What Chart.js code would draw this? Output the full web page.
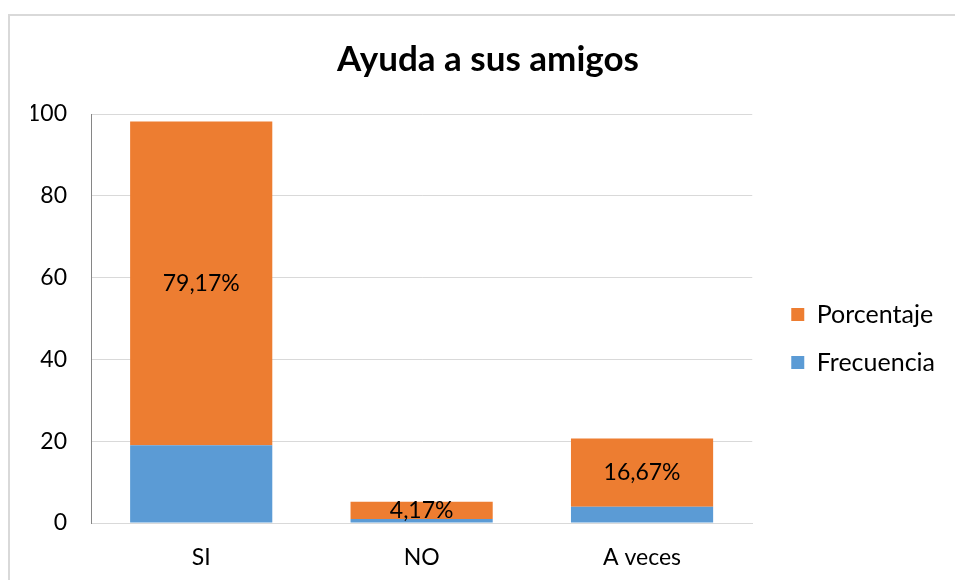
<!DOCTYPE html>
<html>
<head>
<meta charset="utf-8">
<script src="https://cdn.jsdelivr.net/npm/chart.js@4.4.1/dist/chart.umd.min.js"></script>
<style>
  html, body { margin: 0; padding: 0; background: #fff; overflow: hidden; }
  #wrap { position: relative; width: 955px; height: 580px; }
  #frame { position: absolute; left: 8px; top: 14px; width: 1000px; height: 1000px; border: 2px solid #d9d9d9; box-sizing: border-box; }
  canvas { position: absolute; left: 0; top: 0; }
</style>
</head>
<body>
<div id="wrap">
  <div id="frame"></div>
  <canvas id="chart" width="955" height="580"></canvas>
</div>
<script>
// data
const categories = ["SI", "NO", "A veces"];
const frecuencia = [19, 1, 4];
const porcentaje = [79.17, 4.17, 16.67];
const yTicks = [0, 20, 40, 60, 80, 100];

const FONT = "Lato, 'Open Sans', sans-serif";
const LEGEND_GAP = 16;

// labels in the middle of the orange segments ("79,17%")
const pctLabels = {
    id: 'pctLabels',
    afterDatasetsDraw(chart) {
        const ctx = chart.ctx;
        const meta = chart.getDatasetMeta(1);
        ctx.save();
        ctx.font = "23px " + FONT;
        ctx.fillStyle = "#000";
        ctx.textAlign = "center";
        ctx.textBaseline = "middle";
        meta.data.forEach((bar, i) => {
            const txt = porcentaje[i].toFixed(2).replace('.', ',') + '%';
            ctx.fillText(txt, bar.x, (bar.y + bar.base) / 2);
        });
        ctx.restore();
    }
};

// leave some room between the plot and the legend
const legendGap = {
    id: 'legendGap',
    beforeLayout(chart) {
        const lg = chart.legend;
        if (!lg || lg._gapPatched) return;
        const fit = lg.fit;
        lg.fit = function () {
            fit.call(this);
            this.width += LEGEND_GAP;
        };
        lg._gapPatched = true;
    },
    afterLayout(chart) {
        if (chart.legend) chart.legend.left += LEGEND_GAP;
    }
};

let myChart = new Chart(document.getElementById("chart"), {
    type: 'bar',
    data: {
        labels: categories,
        datasets: [{
            label: 'Frecuencia',
            data: frecuencia,
            backgroundColor: '#5b9bd5',
            borderWidth: 0
        }, {
            label: 'Porcentaje',
            data: porcentaje,
            backgroundColor: '#ed7d31',
            borderWidth: 0
        }]
    },
    options: {
        responsive: false,
        animation: false,
        layout: {
            padding: { left: 31, right: 10, top: 0, bottom: 0 }
        },
        datasets: {
            bar: { categoryPercentage: 1, barPercentage: 0.645 }
        },
        scales: {
            x: {
                stacked: true,
                grid: { display: false, drawTicks: false },
                border: { display: true, color: '#d9d9d9', width: 1 },
                ticks: { color: '#000', font: { family: FONT, size: 23 }, padding: 21 },
                afterFit: (s) => { s.height = 57; }
            },
            y: {
                stacked: true,
                min: 0,
                max: 100,
                afterBuildTicks: (s) => { s.ticks = yTicks.map(v => ({ value: v })); },
                grid: { color: '#d9d9d9', lineWidth: 1, drawTicks: false },
                border: { display: true, color: '#868686', width: 1 },
                ticks: { color: '#000', font: { family: FONT, size: 23 }, padding: 24 },
                afterFit: (s) => { s.width = 60; }
            }
        },
        plugins: {
            title: {
                display: true,
                text: 'Ayuda a sus amigos',
                color: '#000',
                font: { family: FONT, size: 35, weight: 'bold' },
                padding: { top: 39, bottom: 33 }
            },
            legend: {
                position: 'right',
                reverse: true,
                title: { display: true, text: ' ', font: { size: 10 }, padding: { top: 0, bottom: 85 } },
                labels: {
                    color: '#000',
                    boxWidth: 13,
                    boxHeight: 13,
                    padding: 23,
                    font: { family: FONT, size: 25 }
                }
            },
            tooltip: { enabled: false }
        }
    },
    plugins: [pctLabels, legendGap]
});
</script>
</body>
</html>
